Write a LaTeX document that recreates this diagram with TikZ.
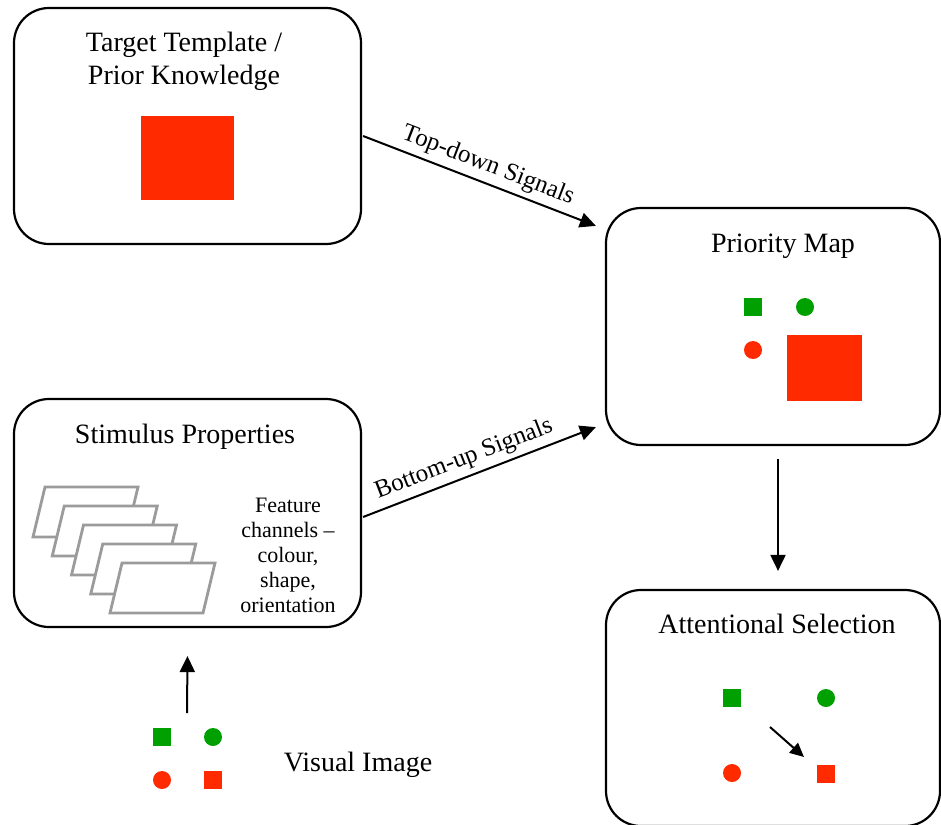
\documentclass[tikz,border=0pt]{standalone}
\usepackage{fontspec}
\setmainfont{Liberation Serif}
\usetikzlibrary{arrows.meta,calc}
\definecolor{tred}{RGB}{255,42,0}
\definecolor{tgreen}{RGB}{0,160,0}
\definecolor{pgrey}{RGB}{155,155,155}
\begin{document}
\begin{tikzpicture}[x=1pt,y=-1pt,
  panel/.style={draw=black,line width=2.2pt,rounded corners=35pt,fill=white,inner sep=0pt},
  ttl/.style={font=\fontsize{28}{33}\selectfont,inner sep=0pt,anchor=base,align=center},
  lbl/.style={font=\fontsize{25}{28}\selectfont,inner sep=2pt},
  arr/.style={line width=2pt,-{Triangle[length=16pt,width=15pt]}},
  gsq/.style={fill=tgreen,inner sep=0pt,minimum size=18pt,rectangle},
  rsq/.style={fill=tred,inner sep=0pt,minimum size=18pt,rectangle},
  gci/.style={fill=tgreen,inner sep=0pt,minimum size=18pt,circle},
  rci/.style={fill=tred,inner sep=0pt,minimum size=18pt,circle},
  para/.style={draw=pgrey,fill=white,line width=2.8pt}]
\clip (0,0) rectangle (941,824);
\fill[white] (0,0) rectangle (941,824);

% panels
\node[panel,minimum width=347pt,minimum height=236pt] (tt) at (187.5,126) {};
\node[panel,minimum width=334pt,minimum height=237pt] (pm) at (773,326.5) {};
\node[panel,minimum width=347pt,minimum height=228pt] (sp) at (187.5,513) {};
\node[panel,minimum width=334pt,minimum height=236pt] (as) at (773,708) {};

% titles
\node[ttl,anchor=center] (ttt) at (184,61) {Target Template /\\Prior Knowledge};
\node[ttl] (pmt) at (783,252) {Priority Map};
\node[ttl] (spt) at (185,443) {Stimulus Properties};
\node[ttl] (ast) at (777,633) {Attentional Selection};

% target template content
\node[fill=tred,inner sep=0pt,minimum width=93pt,minimum height=84pt] (tsq) at (187.5,158) {};

% priority map content
\node[gsq] (pm1) at (753,307) {};
\node[gci] (pm2) at (805,307) {};
\node[rci] (pm3) at (753,350) {};
\node[fill=tred,inner sep=0pt,minimum width=75pt,minimum height=66pt] (pm4) at (824.5,368) {};

% stimulus properties content
\foreach \i in {0,...,4}{
  \filldraw[para] (45+19.25*\i,487+19*\i) -- ++(93,0) -- ++(-12,50) -- ++(-93,0) -- cycle;
}
\node[font=\fontsize{22}{25}\selectfont,align=center,inner sep=0pt] (ft) at (288,555)
  {Feature\\channels –\\colour,\\shape,\\orientation};

% attentional selection content
\node[gsq] (as1) at (732,698) {};
\node[gci] (as2) at (826,698) {};
\node[rci] (as3) at (732,773) {};
\node[rsq] (as4) at (826,774) {};
\draw[line width=2pt,-{Triangle[length=14pt,width=13pt]}] ($(as1)+(38,29)$) -- ($(as4)+(-22,-17)$);

% visual image
\node[gsq] (vi1) at (162,737) {};
\node[gci] (vi2) at (213,737) {};
\node[rci] (vi3) at (162,780) {};
\node[rsq] (vi4) at (213,780) {};
\node[ttl] (vit) at (358,771) {Visual Image};
\coordinate (vitop) at (187,713);

% connectors
\draw[arr] ($(tt.east)+(1,10)$) -- node[lbl,sloped,above,pos=0.51,yshift=3pt] {Top-down Signals} ($(pm.north west)+(-9,19)$);
\draw[arr] ($(sp.east)+(1,4)$) -- node[lbl,sloped,above,pos=0.46,yshift=3pt] {Bottom-up Signals} ($(pm.south west)+(-9,-19)$);
\draw[arr] ($(pm.south)+(5,13)$) -- ($(as.north)+(5,-18)$);
\draw[arr] (vitop) -- ($(sp.south)+(0,28)$);
\end{tikzpicture}
\end{document}
